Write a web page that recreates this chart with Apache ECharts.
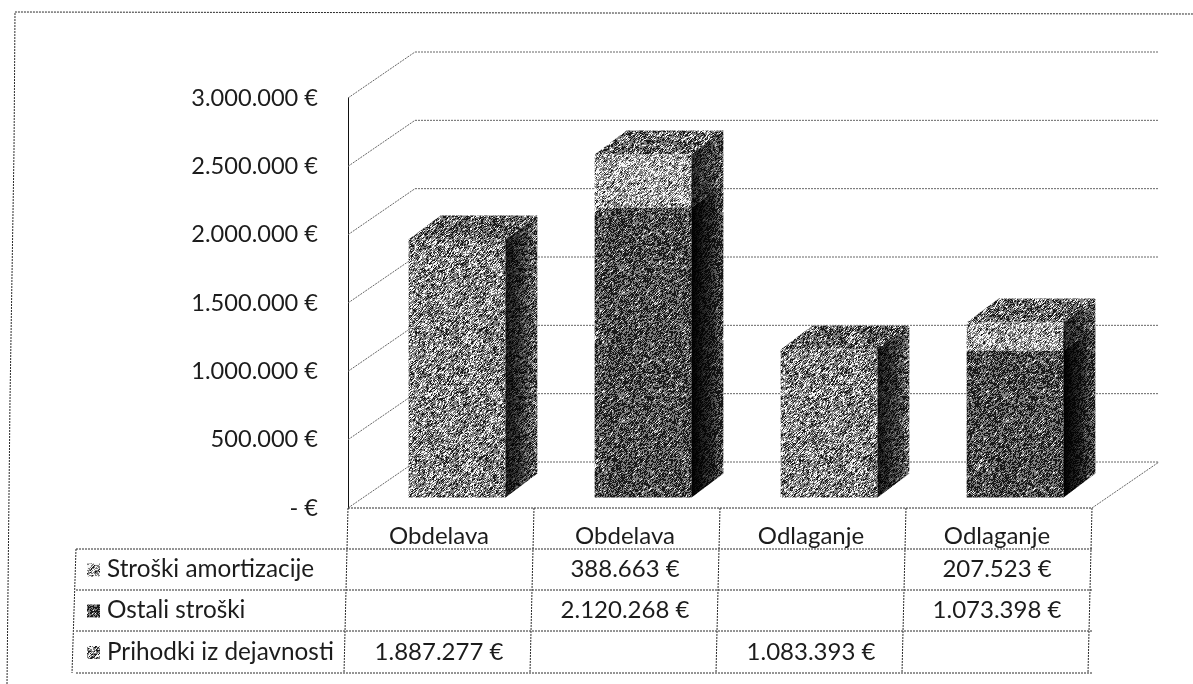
<!DOCTYPE html>
<html>
<head>
<meta charset="utf-8">
<style>html,body{margin:0;padding:0;background:#fff}#chart{width:1193px;height:684px}</style>
<script src="https://cdn.jsdelivr.net/npm/echarts@6/dist/echarts.min.js"></script>
</head>
<body>
<div id="chart"></div>
<script>
const categories = ["Obdelava", "Obdelava", "Odlaganje", "Odlaganje"];
const tickLabels = ["- €", "500.000 €", "1.000.000 €", "1.500.000 €", "2.000.000 €", "2.500.000 €", "3.000.000 €"];
const prihodki = [1887277, null, 1083393, null];
const ostali = [null, 2120268, null, 1073398];
const amortizacija = [null, 388663, null, 207523];
const rowNames = ["Stroški amortizacije", "Ostali stroški", "Prihodki iz dejavnosti"];
const rowValues = [amortizacija, ostali, prihodki];

const FONT = "Lato";
const TEXT = "#1c1c1c";

// scanned look: photocopy speckle of a grey level, fixed hash so it never changes
function speckle(level) {
  const size = 128;
  const noise = (x, y) => {
    const h = Math.sin(((x + size) % size) * 12.9898 + ((y + size) % size) * 78.233) * 43758.5453;
    return h - Math.floor(h);
  };
  const c = document.createElement("canvas");
  c.width = c.height = size;
  const ctx = c.getContext("2d");
  const img = ctx.createImageData(size, size);
  for (let y = 0; y < size; y++) {
    for (let x = 0; x < size; x++) {
      // slight smear along the diagonal, like the short strokes of the copy
      const m = 0.7 * noise(x, y) + 0.15 * noise(x + 1, y - 1) + 0.15 * noise(x - 1, y + 1) + level - 0.5;
      const v = m > 0.68 ? 245 : m < 0.34 ? 25 : 128;
      const i = (y * size + x) * 4;
      img.data[i] = img.data[i + 1] = img.data[i + 2] = v;
      img.data[i + 3] = 255;
    }
  }
  ctx.putImageData(img, 0, 0);
  return { image: c, repeat: "repeat" };
}

const faces = {
  prihodki: { front: speckle(0.52), top: speckle(0.42), side: speckle(0.42), shade: 0.8 },
  ostali: { front: speckle(0.34), top: speckle(0.36), side: speckle(0.3), shade: 1 },
  amortizacija: { front: speckle(0.62), top: speckle(0.44), side: speckle(0.4), shade: 0.7 },
};
const keys = [speckle(0.62), speckle(0.32), speckle(0.52)];

// 3d offsets in pixels, from the front plane of the axis
const wallDepth = [67, -46];
const barShift = [16, -10.5];
const barDepth = [32, -24];
const barRatio = 0.52;

const lineStyle = { stroke: "#2b2b2b", lineWidth: 1, lineDash: [2, 1] };
const wallStyle = { stroke: "#666", lineWidth: 1, lineDash: [2, 1] };

function line(x1, y1, x2, y2, style) {
  return { type: "line", shape: { x1, y1, x2, y2 }, style, silent: true };
}
function poly(points, fill) {
  return { type: "polygon", shape: { points }, style: { fill, stroke: null }, silent: true };
}

function renderWalls(params, api) {
  const children = [];
  const left = api.coord([0, 0])[0] - api.size([1, 0])[0] / 2;
  const right = left + api.size([1, 0])[0] * categories.length;
  tickLabels.forEach((_, i) => {
    const y = api.coord([0, i * 500000])[1];
    const bx = left + wallDepth[0], by = y + wallDepth[1];
    children.push(line(left, y, bx, by, wallStyle));
    children.push(line(bx, by, right + wallDepth[0], by, wallStyle));
    if (i === 0) children.push(line(right, y, right + wallDepth[0], by, wallStyle));
  });
  return { type: "group", children };
}

function renderBar(face, lower, values) {
  return function (params, api) {
    const i = api.value(0);
    const v = values[i];
    if (v == null) return null;
    const base = lower ? lower[i] || 0 : 0;
    const bottom = api.coord([i, base]);
    const top = api.coord([i, base + v]);
    const w = api.size([1, 0])[0] * barRatio;
    const x0 = bottom[0] - w / 2 + barShift[0], x1 = x0 + w;
    const y0 = bottom[1] + barShift[1], y1 = top[1] + barShift[1];
    const dx = barDepth[0], dy = barDepth[1];
    const sidePts = [[x1, y0], [x1 + dx, y0 + dy], [x1 + dx, y1 + dy], [x1, y1]];
    const shade = new echarts.graphic.LinearGradient(0, 0, 1, 0, [
      { offset: 0, color: "rgba(0,0,0," + face.shade + ")" },
      { offset: 0.55, color: "rgba(0,0,0," + face.shade * 0.6 + ")" },
      { offset: 1, color: "rgba(0,0,0,0)" },
    ]);
    return {
      type: "group",
      children: [
        poly(sidePts, face.side),
        poly(sidePts, shade),
        poly([[x0, y1], [x1, y1], [x1 + dx, y1 + dy], [x0 + dx, y1 + dy]], face.top),
        poly([[x0, y0], [x1, y0], [x1, y1], [x0, y1]], face.front),
      ],
    };
  };
}

function renderTable(params, api) {
  const children = [];
  const band = api.size([1, 0])[0];
  const left = api.coord([0, 0])[0] - band / 2;
  const top = api.coord([0, 0])[1];
  const rowLines = [top + 41, top + 82, top + 123, top + 165];
  const tableLeft = 76;
  const skew = (y) => ((y - top) / 165) * -4;

  children.push(line(left, top, left + band * categories.length, top, lineStyle));
  rowLines.forEach((y) => {
    children.push(line(tableLeft, y, left + band * categories.length, y, lineStyle));
  });
  children.push(line(tableLeft, rowLines[0], tableLeft + skew(rowLines[3]), rowLines[3], lineStyle));
  for (let c = 0; c <= categories.length; c++) {
    const x = left + band * c;
    children.push(line(x, top, x + skew(rowLines[3]), rowLines[3], lineStyle));
  }
  rowNames.forEach((name, r) => {
    const y = (rowLines[r] + rowLines[r + 1]) / 2;
    children.push({ type: "rect", shape: { x: 87, y: y - 6, width: 13, height: 13 }, style: { fill: keys[r] }, silent: true });
    children.push({
      type: "text", silent: true,
      style: { x: 107, y: y, text: name, font: "24.3px " + FONT, fill: TEXT, verticalAlign: "middle", align: "left" },
    });
    rowValues[r].forEach((v, c) => {
      if (v == null) return;
      children.push({
        type: "text", silent: true,
        style: {
          x: left + band * (c + 0.5) - 2, y: y, text: fmt(v) + " €",
          font: "24px " + FONT, fill: TEXT, verticalAlign: "middle", align: "center",
        },
      });
    });
  });
  return { type: "group", children };
}

function fmt(v) {
  return String(v).replace(/\B(?=(\d{3})+$)/g, ".");
}

const idx = categories.map((_, i) => i);
const chart = echarts.init(document.getElementById("chart"), null, { renderer: "canvas" });

chart.setOption({
  animation: false,
  backgroundColor: "#fff",
  graphic: [
    {
      type: "polyline", silent: true,
      shape: { points: [[7, 684], [10, 400], [14, 150], [15, 12], [1193, 14]] },
      style: { stroke: "#2b2b2b", fill: null, lineWidth: 1, lineDash: [2, 1] },
    },
  ],
  grid: { left: 348, top: 98, width: 744, height: 410 },
  xAxis: {
    type: "category",
    data: categories,
    axisLine: { show: false },
    axisTick: { show: false },
    axisLabel: { fontFamily: FONT, fontSize: 24, color: TEXT, margin: 16, interval: 0, padding: [0, 4, 0, 0] },
  },
  yAxis: {
    type: "value",
    min: 0,
    max: 3000000,
    interval: 500000,
    axisLine: { show: true, lineStyle: { color: "#111", width: 1 } },
    axisTick: { show: false },
    splitLine: { show: false },
    axisLabel: {
      fontFamily: FONT, fontSize: 23.6, color: TEXT, margin: 30,
      formatter: (v) => tickLabels[v / 500000],
    },
  },
  series: [
    { type: "custom", name: "walls", data: [0], z: 1, silent: true, renderItem: renderWalls, encode: { x: 0 } },
    { type: "custom", name: "Prihodki iz dejavnosti", data: idx, z: 2, silent: true, renderItem: renderBar(faces.prihodki, null, prihodki), encode: { x: 0 } },
    { type: "custom", name: "Ostali stroški", data: idx, z: 2, silent: true, renderItem: renderBar(faces.ostali, null, ostali), encode: { x: 0 } },
    { type: "custom", name: "Stroški amortizacije", data: idx, z: 3, silent: true, renderItem: renderBar(faces.amortizacija, ostali, amortizacija), encode: { x: 0 } },
    { type: "custom", name: "table", data: [0], z: 4, silent: true, renderItem: renderTable, encode: { x: 0 } },
  ],
});
</script>
</body>
</html>
